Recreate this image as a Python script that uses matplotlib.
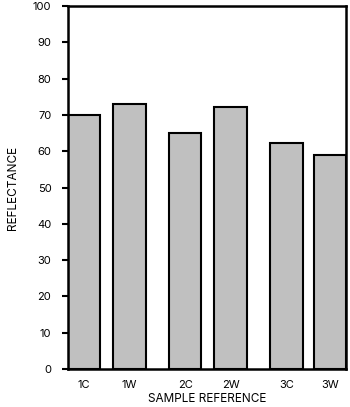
import numpy as np
import matplotlib.pyplot as plt

plt.rcParams['font.family'] = ['Inter', 'DejaVu Sans']

samples = ['1C', '1W', '2C', '2W', '3C', '3W']
reflectance = [70.0, 73.1, 65.1, 72.3, 62.3, 58.9]
positions = [0, 1.4, 3.12, 4.52, 6.24, 7.58]

fig = plt.figure(figsize=(3.5, 4.07), dpi=100)
ax = fig.add_axes([68/350, 38/407, 278/350, 363/407])

ax.bar(positions, reflectance, width=1.0, color='#c0c0c0',
       edgecolor='black', linewidth=1.5, zorder=2)

ax.set_xlim(positions[0] - 0.5, positions[-1] + 0.5)
ax.set_ylim(0, 100)
ax.set_yticks(np.arange(0, 101, 10))
ax.set_xticks(positions)
ax.set_xticklabels(samples)
ax.tick_params(axis='x', length=0, pad=8, labelsize=8)
ax.tick_params(axis='y', length=4, width=1.5, direction='out', pad=8, labelsize=8)
for s in ax.spines.values():
    s.set_linewidth(1.8)

ax.set_xlabel('SAMPLE REFERENCE', fontsize=8.5, labelpad=2)
ax.set_ylabel('REFLECTANCE', fontsize=8.5, labelpad=10)

fig.savefig('out.png', dpi=100)
